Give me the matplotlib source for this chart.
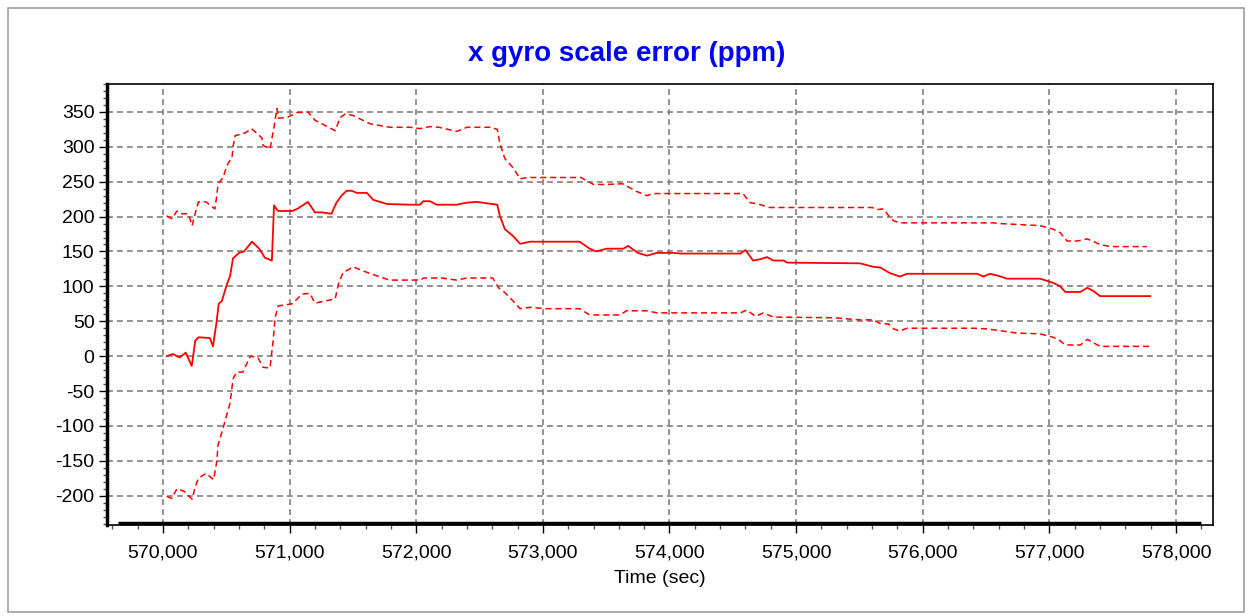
import matplotlib
matplotlib.use("Agg")
import matplotlib.pyplot as plt
from matplotlib.ticker import MultipleLocator, StrMethodFormatter
from matplotlib.patches import Rectangle

plt.rcParams['font.family'] = ['Liberation Sans', 'DejaVu Sans']
plt.rcParams['axes.unicode_minus'] = False

# scale error estimate (ppm) vs time (sec)
t_mid = [570030, 570080, 570130, 570180, 570227, 570255, 570280, 570370, 570395, 570424,
         570440, 570465, 570505, 570530, 570553, 570600, 570640, 570703, 570760, 570805,
         570860, 570877, 570908, 571020, 571060, 571145, 571200, 571255, 571330, 571370,
         571410, 571450, 571490, 571530, 571610, 571660, 571770, 571950, 572030, 572055,
         572110, 572160, 572320, 572400, 572480, 572640, 572660, 572700, 572765, 572820,
         572900, 573290, 573370, 573420, 573505, 573635, 573673, 573750, 573823, 573900,
         574030, 574085, 574560, 574600, 574660, 574720, 574770, 574820, 574900, 574930,
         575505, 575610, 575665, 575740, 575820, 575875, 576430, 576480, 576530, 576600,
         576665, 576925, 576980, 577030, 577085, 577125, 577245, 577300, 577350, 577400,
         577796]
mid = [0, 3, -2, 5, -14, 22, 27, 26, 14, 50,
       75, 79, 103, 115, 140, 148, 150, 164, 154, 141,
       137, 216, 208, 208, 211, 221, 206, 206, 204, 220,
       230, 237, 237, 234, 234, 224, 218, 217, 217, 222,
       222, 217, 217, 220, 221, 217, 201, 182, 172, 161,
       164, 164, 154, 150, 154, 154, 158, 148, 144, 148,
       148, 147, 147, 152, 137, 139, 142, 137, 137, 134,
       133, 128, 127, 119, 114, 118, 118, 114, 118, 115,
       111, 111, 108, 105, 100, 92, 92, 98, 93, 86,
       86]

t_up = [570030, 570070, 570110, 570150, 570200, 570230, 570255, 570280, 570340, 570410,
        570425, 570435, 570475, 570505, 570545, 570555, 570570, 570650, 570700, 570780,
        570790, 570845, 570875, 570900, 570910, 570980, 571060, 571145, 571200, 571255,
        571360, 571400, 571440, 571500, 571635, 571790, 571950, 572030, 572110, 572180,
        572320, 572400, 572585, 572640, 572660, 572700, 572765, 572820, 572875, 573300,
        573400, 573505, 573630, 573740, 573823, 573870, 574580, 574636, 574700, 574790,
        575600, 575640, 575690, 575740, 575770, 575820, 576560, 576610, 576925, 577030,
        577085, 577140, 577220, 577300, 577400, 577480, 577770]
up = [201, 197, 208, 204, 204, 187, 205, 221, 221, 211,
      230, 247, 256, 273, 285, 302, 316, 320, 326, 313,
      302, 297, 326, 355, 341, 342, 349, 350, 338, 333,
      323, 342, 347, 345, 333, 328, 328, 326, 329, 328,
      322, 328, 328, 325, 305, 283, 270, 254, 256, 256,
      246, 246, 247, 236, 230, 233, 233, 220, 218, 213,
      213, 210, 211, 199, 194, 191, 191, 190, 187, 182,
      177, 165, 165, 168, 160, 157, 157]

t_lo = [570030, 570070, 570110, 570170, 570230, 570255, 570280, 570340, 570400, 570425,
        570435, 570475, 570530, 570553, 570580, 570630, 570690, 570750, 570790, 570845,
        570870, 570885, 570910, 571020, 571100, 571160, 571200, 571280, 571360, 571385,
        571420, 571500, 571640, 571790, 572030, 572060, 572200, 572320, 572400, 572605,
        572650, 572700, 572765, 572820, 572900, 573020, 573290, 573370, 573610, 573660,
        573823, 573900, 574560, 574610, 574680, 574740, 574820, 575300, 575500, 575610,
        575660, 575730, 575770, 575820, 575875, 576400, 576510, 576745, 576925, 577030,
        577085, 577125, 577245, 577300, 577350, 577400, 577796]
lo = [-201, -204, -190, -194, -205, -187, -175, -168, -177, -151,
      -127, -103, -67, -33, -23, -23, 0, -2, -16, -17,
      22, 55, 72, 75, 89, 90, 76, 79, 82, 103,
      119, 128, 118, 109, 109, 112, 112, 109, 112, 112,
      98, 91, 79, 68, 70, 68, 68, 59, 59, 65,
      65, 62, 62, 66, 57, 62, 56, 55, 52, 52,
      47, 46, 39, 36, 40, 40, 39, 33, 32, 27,
      22, 16, 16, 24, 19, 14, 14]

fig = plt.figure(figsize=(12.49, 6.16), dpi=100)
ax = fig.add_axes([107/1249, 1 - 525/616, (1213-107)/1249, (525-84)/616])

ax.plot(t_mid, mid, color='red', lw=1.3)
ax.plot(t_up, up, color='red', lw=1.1, linestyle=(0, (4, 2.5)))
ax.plot(t_lo, lo, color='red', lw=1.1, linestyle=(0, (4, 2.5)))

ax.set_xlim(569558, 578292)
ax.set_ylim(-242, 390)

ax.xaxis.set_major_locator(MultipleLocator(1000))
ax.xaxis.set_minor_locator(MultipleLocator(200))
ax.yaxis.set_major_locator(MultipleLocator(50))
ax.yaxis.set_minor_locator(MultipleLocator(10))
ax.xaxis.set_major_formatter(StrMethodFormatter('{x:,.0f}'))

ax.grid(True, which='major', color='#808080', linestyle=(0, (3.5, 2.5)), lw=1.2)
ax.set_axisbelow(True)

ax.tick_params(which='major', direction='out', length=6, width=1, colors='black',
               labelsize=14, pad=3)
ax.tick_params(which='minor', direction='out', length=3, width=1, colors='#555555')
ax.tick_params(axis='x', which='major', pad=8)

for s in ['top', 'right']:
    ax.spines[s].set_linewidth(1.2)
ax.spines['left'].set_linewidth(2.5)
ax.spines['bottom'].set_linewidth(1.2)
# heavy baseline inside the frame
ax.plot([0.01, 0.989], [0.004, 0.004], transform=ax.transAxes, color='black',
        lw=2.5, clip_on=False, solid_capstyle='butt')

ax.set_xlabel('Time (sec)', fontsize=14, labelpad=6)
fig.text(0.502, 1 - 54/616, 'x gyro scale error (ppm)', ha='center', va='center',
         fontsize=20, fontweight='bold', color='#0000FF')

fig.patches.append(Rectangle((8/1249, 4/616), 1236/1249, 604/616, transform=fig.transFigure,
                             fill=False, edgecolor='#A0A0A0', lw=1.2))

fig.savefig('out.png', dpi=100, facecolor='white')
